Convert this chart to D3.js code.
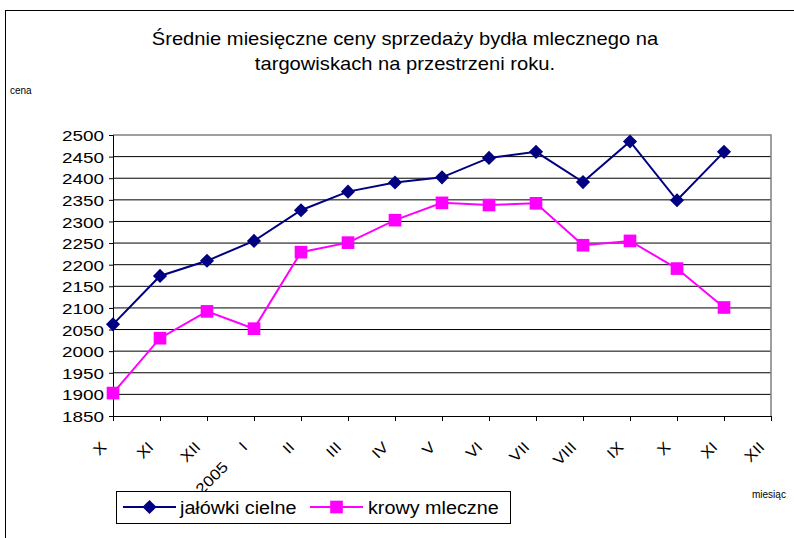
<!DOCTYPE html>
<html>
<head>
<meta charset="utf-8">
<script src="https://cdn.jsdelivr.net/npm/d3@7"></script>
<style>
  body { margin: 0; background: #fff; }
  svg { display: block; font-family: "Liberation Sans", Arial, sans-serif; }
</style>
</head>
<body>
<div id="chart"></div>
<script>
// month labels on the x axis (Oct 2004 .. Dec 2005)
var months = ["X", "XI", "XII", "I", "II", "III", "IV", "V", "VI", "VII", "VIII", "IX", "X ", "XI ", "XII "];
var monthText = ["X", "XI", "XII", "I", "II", "III", "IV", "V", "VI", "VII", "VIII", "IX", "X", "XI", "XII"];

// average prices, values
var jalowki = [2062, 2174, 2209, 2255, 2326, 2369, 2390, 2402, 2447, 2461, 2391, 2485, 2349, 2461];
var krowy   = [1903, 2030, 2092, 2052, 2229, 2251, 2303, 2343, 2338, 2342, 2245, 2255, 2191, 2101];

var yTicks = d3.range(1850, 2501, 50);

var W = 794, H = 538;
var plotL = 113, plotR = 771, plotT = 135, plotB = 416;

var svg = d3.select("#chart").append("svg")
    .attr("width", W)
    .attr("height", H);

// outer chart border (only left/top visible)
svg.append("rect")
    .attr("x", 5.5).attr("y", 10.5)
    .attr("width", W + 10).attr("height", H + 10)
    .attr("fill", "#fff")
    .attr("stroke", "#000");

var x = d3.scalePoint()
    .domain(months)
    .range([plotL, plotR]);

var y = d3.scaleLinear()
    .domain([1850, 2500])
    .range([plotB, plotT]);

function stretch(cx, k) {
  return "translate(" + cx + ",0) scale(" + k + ",1) translate(" + (-cx) + ",0)";
}

// title
svg.append("text")
    .attr("x", 405).attr("y", 45)
    .attr("text-anchor", "middle")
    .attr("transform", stretch(405, 1.12))
    .style("font-size", "18px")
    .text("Średnie miesięczne ceny sprzedaży bydła mlecznego na");
svg.append("text")
    .attr("x", 405).attr("y", 70)
    .attr("text-anchor", "middle")
    .attr("transform", stretch(405, 1.12))
    .style("font-size", "18px")
    .text("targowiskach na przestrzeni roku.");

svg.append("text")
    .attr("x", 10).attr("y", 94)
    .style("font-size", "10px")
    .text("cena");

svg.append("text")
    .attr("x", 752).attr("y", 498)
    .style("font-size", "10px")
    .text("miesiąc");

// grid lines
svg.append("g")
    .selectAll("line")
    .data(yTicks.filter(function(d){ return d > 1850 && d < 2500; }))
    .enter().append("line")
    .attr("x1", plotL).attr("x2", plotR)
    .attr("y1", function(d){ return y(d); })
    .attr("y2", function(d){ return y(d); })
    .attr("stroke", "#000")
    .attr("stroke-width", 1);

// plot frame top / right
svg.append("path")
    .attr("d", "M" + plotL + "," + plotT + "H" + plotR + "V" + plotB)
    .attr("fill", "none")
    .attr("stroke", "#808080")
    .attr("stroke-width", 1.5);

// y axis
var yAxis = svg.append("g")
    .attr("transform", "translate(" + plotL + ",0)")
    .call(d3.axisLeft(y).tickValues(yTicks).tickSize(4).tickPadding(5).tickFormat(d3.format("d")));
yAxis.select(".domain").attr("stroke", "#000");
yAxis.selectAll("text")
    .attr("fill", "#000")
    .style("font-size", "15.5px")
    .attr("dy", "0.36em")
    .attr("transform", stretch(-9, 1.22));

// x axis
var xAxis = svg.append("g")
    .attr("transform", "translate(0," + plotB + ")")
    .call(d3.axisBottom(x).tickSize(5).tickSizeOuter(0).tickFormat(function(d, i){ return monthText[i]; }));
xAxis.select(".domain").attr("stroke", "#000");
xAxis.selectAll("text")
    .attr("fill", "#000")
    .style("font-size", "15px")
    .attr("text-anchor", "end")
    .attr("x", 0).attr("y", 0).attr("dy", 0)
    .attr("transform", "translate(-6,32) rotate(-45) scale(1.15,1)");

svg.append("text")
    .attr("transform", "translate(" + (x("I") - 25) + ",468) rotate(-45) scale(1.15,1)")
    .attr("text-anchor", "end")
    .style("font-size", "15px")
    .text("2005");

// series: diamond is a square turned 45 degrees
var series = [
  { name: "jałówki cielne", values: jalowki, color: "#000080", symbol: d3.symbolSquare, size: 100, rot: 45 },
  { name: "krowy mleczne", values: krowy, color: "#ff00ff", symbol: d3.symbolSquare, size: 160, rot: 0 }
];

var line = d3.line()
    .x(function(d, i){ return x(months[i]); })
    .y(function(d){ return y(d); });

series.forEach(function(s){
  svg.append("path")
      .datum(s.values)
      .attr("fill", "none")
      .attr("stroke", s.color)
      .attr("stroke-width", 2)
      .attr("d", line);

  svg.append("g").selectAll("path")
      .data(s.values)
      .enter().append("path")
      .attr("d", d3.symbol().type(s.symbol).size(s.size))
      .attr("transform", function(d, i){ return "translate(" + x(months[i]) + "," + y(d) + ") rotate(" + s.rot + ")"; })
      .attr("fill", s.color);
});

// legend
var legend = svg.append("g");
legend.append("rect")
    .attr("x", 116.5).attr("y", 491.5)
    .attr("width", 394).attr("height", 32)
    .attr("fill", "#fff")
    .attr("stroke", "#000");

var legendPos = [{ x1: 123, x2: 176, tx: 180 }, { x1: 310, x2: 363, tx: 368 }];
series.forEach(function(s, i){
  var p = legendPos[i];
  legend.append("line")
      .attr("x1", p.x1).attr("x2", p.x2)
      .attr("y1", 507).attr("y2", 507)
      .attr("stroke", s.color).attr("stroke-width", 2);
  legend.append("path")
      .attr("d", d3.symbol().type(s.symbol).size(s.size))
      .attr("transform", "translate(" + ((p.x1 + p.x2) / 2) + ",507) rotate(" + s.rot + ")")
      .attr("fill", s.color);
  legend.append("text")
      .attr("x", p.tx).attr("y", 514)
      .style("font-size", "17.5px")
      .attr("transform", stretch(p.tx, 1.13))
      .text(s.name);
});
</script>
</body>
</html>
